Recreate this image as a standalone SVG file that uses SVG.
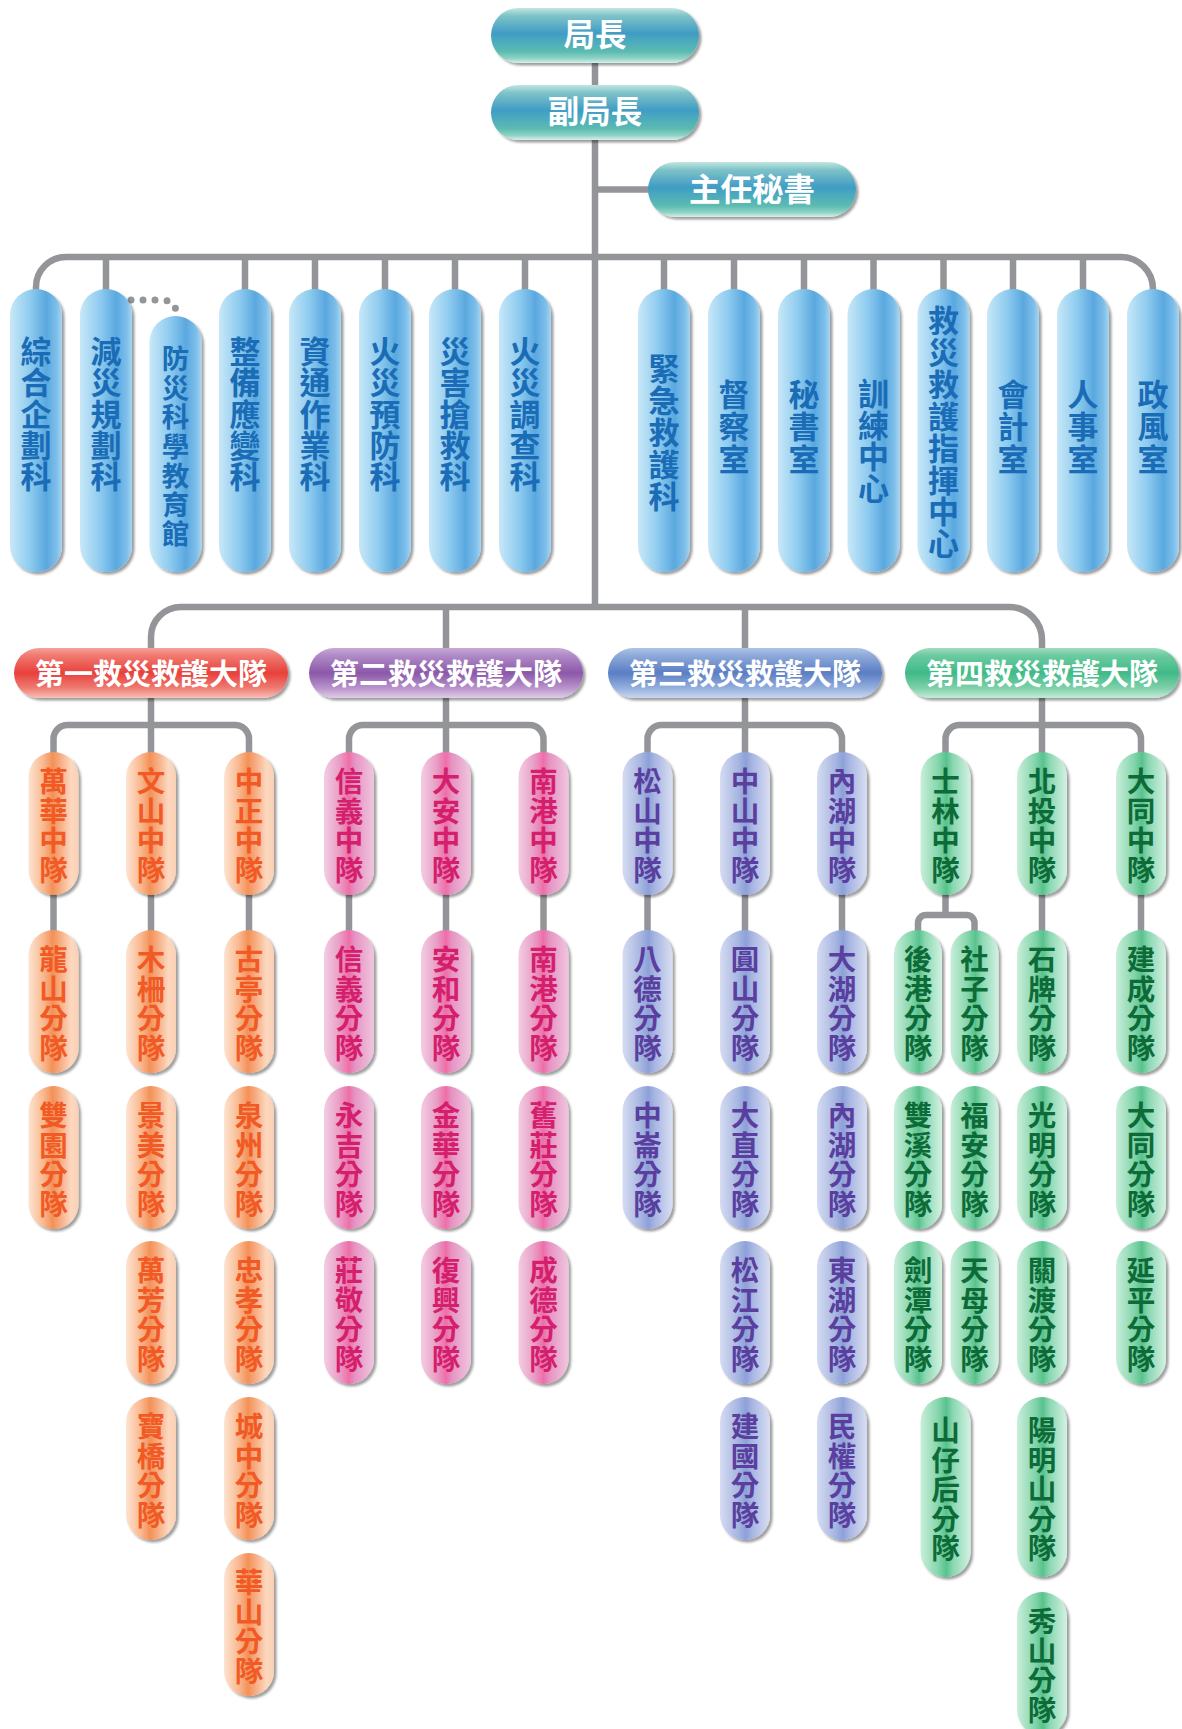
<svg xmlns="http://www.w3.org/2000/svg" width="1182" height="1729" viewBox="0 0 1182 1729">
<defs>
<style>
.ln{fill:none;stroke:#939598;stroke-width:6.5}
.dot{fill:none;stroke:#939598;stroke-width:7;stroke-linecap:round;stroke-dasharray:0 12}
text{font-family:"Noto Sans CJK TC","Noto Sans CJK SC",sans-serif;font-weight:700;text-anchor:middle;dominant-baseline:central}
tspan{dominant-baseline:central}
.sh{filter:url(#sh)}
.tw{fill:#fff;font-size:31.5px}
.tb{fill:#fff;font-size:29px}
.td{fill:#1a6cb6;font-size:31px;transform:translateY(-2px)}
.td2{fill:#1a6cb6;font-size:27.5px;transform:translateY(-1px)}
.tt{font-size:28.5px}
.to{fill:#f15a24}.tp{fill:#d41f6c}.tl{fill:#5a3f9f}.tg{fill:#0d6b38}
.ptop{fill:url(#gTop)}
.pdep{fill:url(#gDep)}
.po{fill:url(#gO)}.pp{fill:url(#gP)}.pl{fill:url(#gL)}.pg{fill:url(#gG)}
</style>
<filter id="sh" x="-20%" y="-10%" width="150%" height="125%">
<feDropShadow dx="2.5" dy="2.5" stdDeviation="1.3" flood-color="#000" flood-opacity="0.38"/>
</filter>
<linearGradient id="gTop" x1="0" y1="0" x2="0" y2="1">
<stop offset="0" stop-color="#c2e6e1"/><stop offset="0.14" stop-color="#7fc3c8"/><stop offset="0.46" stop-color="#3f9cc4"/><stop offset="0.56" stop-color="#48a6c0"/><stop offset="0.8" stop-color="#5cbcb1"/><stop offset="0.92" stop-color="#92d4c7"/><stop offset="1" stop-color="#d8f1eb"/>
</linearGradient>
<linearGradient id="gDep" x1="0" y1="0" x2="1" y2="0">
<stop offset="0" stop-color="#c8e8f8"/><stop offset="0.4" stop-color="#8ccaef"/><stop offset="0.7" stop-color="#5aa8df"/><stop offset="0.9" stop-color="#7ebfea"/><stop offset="1" stop-color="#a7d6f3"/>
</linearGradient>
<linearGradient id="gO" x1="0" y1="0" x2="1" y2="0">
<stop offset="0" stop-color="#fde4d2"/><stop offset="0.3" stop-color="#f9b88f"/><stop offset="0.48" stop-color="#f39158"/><stop offset="0.6" stop-color="#f6a678"/><stop offset="0.85" stop-color="#fcd8bf"/><stop offset="1" stop-color="#fbd0b4"/>
</linearGradient>
<linearGradient id="gP" x1="0" y1="0" x2="1" y2="0">
<stop offset="0" stop-color="#f3cde2"/><stop offset="0.3" stop-color="#e9a0c8"/><stop offset="0.5" stop-color="#ee6ea8"/><stop offset="0.62" stop-color="#e694c3"/><stop offset="1" stop-color="#f0c6de"/>
</linearGradient>
<linearGradient id="gL" x1="0" y1="0" x2="1" y2="0">
<stop offset="0" stop-color="#d5dcf2"/><stop offset="0.35" stop-color="#a9b8e2"/><stop offset="0.52" stop-color="#8da1d8"/><stop offset="0.65" stop-color="#a8b6e2"/><stop offset="1" stop-color="#d9def2"/>
</linearGradient>
<linearGradient id="gG" x1="0" y1="0" x2="1" y2="0">
<stop offset="0" stop-color="#c9eedb"/><stop offset="0.35" stop-color="#86d6ad"/><stop offset="0.52" stop-color="#58c28d"/><stop offset="0.65" stop-color="#8bd7b1"/><stop offset="1" stop-color="#d3f2e3"/>
</linearGradient>
<linearGradient id="gR" x1="0" y1="0" x2="0" y2="1">
<stop offset="0" stop-color="#f5a199"/><stop offset="0.15" stop-color="#f07a70"/><stop offset="0.5" stop-color="#e8403c"/><stop offset="0.8" stop-color="#ef7b72"/><stop offset="1" stop-color="#f8c0b8"/>
</linearGradient>
<linearGradient id="gPu" x1="0" y1="0" x2="0" y2="1">
<stop offset="0" stop-color="#c9a9d6"/><stop offset="0.15" stop-color="#b08ac7"/><stop offset="0.5" stop-color="#8b58a8"/><stop offset="0.8" stop-color="#b893cc"/><stop offset="1" stop-color="#e0cde8"/>
</linearGradient>
<linearGradient id="gBl" x1="0" y1="0" x2="0" y2="1">
<stop offset="0" stop-color="#aec3e8"/><stop offset="0.15" stop-color="#8eaad9"/><stop offset="0.5" stop-color="#5a7ec4"/><stop offset="0.8" stop-color="#94afdd"/><stop offset="1" stop-color="#c9d7f0"/>
</linearGradient>
<linearGradient id="gGr" x1="0" y1="0" x2="0" y2="1">
<stop offset="0" stop-color="#9fdcc0"/><stop offset="0.15" stop-color="#6ccaa0"/><stop offset="0.5" stop-color="#3fba88"/><stop offset="0.8" stop-color="#7ed0a9"/><stop offset="1" stop-color="#c4ecd9"/>
</linearGradient>
</defs>
<rect width="1182" height="1729" fill="#fff"/>

<g id="connectors">
<path class="ln" d="M595,60 V607"/>
<path class="ln" d="M595,189.5 H650"/>
<path class="ln" d="M36,290 V287 A30 30 0 0 1 66 257 H1121 A32 32 0 0 1 1153 289 V290"/>
<path class="ln" d="M106,257 V290 M245,257 V290 M315,257 V290 M385,257 V290 M455,257 V290 M525,257 V290 M664,257 V290 M734,257 V290 M804,257 V290 M873.5,257 V290 M943.5,257 V290 M1013,257 V290 M1083,257 V290"/>
<path class="dot" d="M131,300 H161 Q176,300 176,313"/>
<path class="ln" d="M151,649 V637 A30 30 0 0 1 181 607 H1009 A33 33 0 0 1 1042 640 V649 M446,607 V649 M745,607 V649"/>
<path class="ln" d="M151,697 V753 M446,697 V753 M745,697 V753 M1042,697 V753"/>
<path class="ln" d="M53.5,753 V739 A14 14 0 0 1 67.5 725 H235 A14 14 0 0 1 249 739 V753"/>
<path class="ln" d="M349,753 V739 A14 14 0 0 1 363 725 H529.5 A14 14 0 0 1 543.5 739 V753"/>
<path class="ln" d="M647.5,753 V739 A14 14 0 0 1 661.5 725 H828 A14 14 0 0 1 842 739 V753"/>
<path class="ln" d="M945.5,753 V739 A14 14 0 0 1 959.5 725 H1127 A14 14 0 0 1 1141 739 V753"/>
<path class="ln" d="M53.5,894 V931 M151,894 V931 M249,894 V931 M349,894 V931 M446,894 V931 M543.5,894 V931 M647.5,894 V931 M745,894 V931 M842,894 V931 M1042,894 V931 M1141,894 V931"/>
<path class="ln" d="M945.5,894 V915 M918,931 V923 A8 8 0 0 1 926 915 H966.5 A8 8 0 0 1 974.5 923 V931"/>
</g>

<g id="n-chief"><rect class="ptop sh" x="491" y="8" width="208" height="55" rx="27.5"/><text class="tw" x="595" y="32">局長</text></g>
<g id="n-deputy"><rect class="ptop sh" x="491" y="85" width="208" height="55" rx="27.5"/><text class="tw" x="595" y="109">副局長</text></g>
<g id="n-secretary"><rect class="ptop sh" x="648" y="162" width="208" height="55" rx="27.5"/><text class="tw" x="752" y="186.5">主任秘書</text></g>

<g id="n-d1" transform="translate(36,0)"><rect class="pdep sh" x="-26" y="289" width="52" height="283" rx="26"/><text class="td"><tspan x="0" y="351">綜</tspan><tspan x="0" y="382.25">合</tspan><tspan x="0" y="413.5">企</tspan><tspan x="0" y="444.75">劃</tspan><tspan x="0" y="476">科</tspan></text></g>
<g id="n-d2" transform="translate(106,0)"><rect class="pdep sh" x="-26" y="289" width="52" height="283" rx="26"/><text class="td"><tspan x="0" y="351">減</tspan><tspan x="0" y="382.25">災</tspan><tspan x="0" y="413.5">規</tspan><tspan x="0" y="444.75">劃</tspan><tspan x="0" y="476">科</tspan></text></g>
<g id="n-d3" transform="translate(175.5,0)"><rect class="pdep sh" x="-26" y="316" width="52" height="256" rx="26"/><text class="td2"><tspan x="0" y="358">防</tspan><tspan x="0" y="387.2">災</tspan><tspan x="0" y="416.3">科</tspan><tspan x="0" y="445.5">學</tspan><tspan x="0" y="474.7">教</tspan><tspan x="0" y="503.8">育</tspan><tspan x="0" y="533">館</tspan></text></g>
<g id="n-d4" transform="translate(245,0)"><rect class="pdep sh" x="-26" y="289" width="52" height="283" rx="26"/><text class="td"><tspan x="0" y="351">整</tspan><tspan x="0" y="382.25">備</tspan><tspan x="0" y="413.5">應</tspan><tspan x="0" y="444.75">變</tspan><tspan x="0" y="476">科</tspan></text></g>
<g id="n-d5" transform="translate(315,0)"><rect class="pdep sh" x="-26" y="289" width="52" height="283" rx="26"/><text class="td"><tspan x="0" y="351">資</tspan><tspan x="0" y="382.25">通</tspan><tspan x="0" y="413.5">作</tspan><tspan x="0" y="444.75">業</tspan><tspan x="0" y="476">科</tspan></text></g>
<g id="n-d6" transform="translate(385,0)"><rect class="pdep sh" x="-26" y="289" width="52" height="283" rx="26"/><text class="td"><tspan x="0" y="351">火</tspan><tspan x="0" y="382.25">災</tspan><tspan x="0" y="413.5">預</tspan><tspan x="0" y="444.75">防</tspan><tspan x="0" y="476">科</tspan></text></g>
<g id="n-d7" transform="translate(455,0)"><rect class="pdep sh" x="-26" y="289" width="52" height="283" rx="26"/><text class="td"><tspan x="0" y="351">災</tspan><tspan x="0" y="382.25">害</tspan><tspan x="0" y="413.5">搶</tspan><tspan x="0" y="444.75">救</tspan><tspan x="0" y="476">科</tspan></text></g>
<g id="n-d8" transform="translate(525,0)"><rect class="pdep sh" x="-26" y="289" width="52" height="283" rx="26"/><text class="td"><tspan x="0" y="351">火</tspan><tspan x="0" y="382.25">災</tspan><tspan x="0" y="413.5">調</tspan><tspan x="0" y="444.75">查</tspan><tspan x="0" y="476">科</tspan></text></g>
<g id="n-d9" transform="translate(664,0)"><rect class="pdep sh" x="-26" y="289" width="52" height="283" rx="26"/><text class="td"><tspan x="0" y="368">緊</tspan><tspan x="0" y="400">急</tspan><tspan x="0" y="432">救</tspan><tspan x="0" y="464">護</tspan><tspan x="0" y="496">科</tspan></text></g>
<g id="n-d10" transform="translate(734,0)"><rect class="pdep sh" x="-26" y="289" width="52" height="283" rx="26"/><text class="td"><tspan x="0" y="393.5">督</tspan><tspan x="0" y="426">察</tspan><tspan x="0" y="458.5">室</tspan></text></g>
<g id="n-d11" transform="translate(804,0)"><rect class="pdep sh" x="-26" y="289" width="52" height="283" rx="26"/><text class="td"><tspan x="0" y="393.5">秘</tspan><tspan x="0" y="426">書</tspan><tspan x="0" y="458.5">室</tspan></text></g>
<g id="n-d12" transform="translate(873.5,0)"><rect class="pdep sh" x="-26" y="289" width="52" height="283" rx="26"/><text class="td"><tspan x="0" y="393">訓</tspan><tspan x="0" y="424.7">練</tspan><tspan x="0" y="456.3">中</tspan><tspan x="0" y="488">心</tspan></text></g>
<g id="n-d13" transform="translate(943.5,0)"><rect class="pdep sh" x="-26" y="289" width="52" height="283" rx="26"/><text class="td"><tspan x="0" y="320">救</tspan><tspan x="0" y="351.9">災</tspan><tspan x="0" y="383.8">救</tspan><tspan x="0" y="415.7">護</tspan><tspan x="0" y="447.6">指</tspan><tspan x="0" y="479.5">揮</tspan><tspan x="0" y="511.4">中</tspan><tspan x="0" y="543.3">心</tspan></text></g>
<g id="n-d14" transform="translate(1013,0)"><rect class="pdep sh" x="-26" y="289" width="52" height="283" rx="26"/><text class="td"><tspan x="0" y="393.5">會</tspan><tspan x="0" y="426">計</tspan><tspan x="0" y="458.5">室</tspan></text></g>
<g id="n-d15" transform="translate(1083,0)"><rect class="pdep sh" x="-26" y="289" width="52" height="283" rx="26"/><text class="td"><tspan x="0" y="393.5">人</tspan><tspan x="0" y="426">事</tspan><tspan x="0" y="458.5">室</tspan></text></g>
<g id="n-d16" transform="translate(1153,0)"><rect class="pdep sh" x="-26" y="289" width="52" height="283" rx="26"/><text class="td"><tspan x="0" y="393.5">政</tspan><tspan x="0" y="426">風</tspan><tspan x="0" y="458.5">室</tspan></text></g>

<g id="n-b1"><rect class="sh" fill="url(#gR)" x="14" y="648" width="274" height="50" rx="25"/><text class="tb" x="151" y="672">第一救災救護大隊</text></g>
<g id="n-b2"><rect class="sh" fill="url(#gPu)" x="309" y="648" width="274" height="50" rx="25"/><text class="tb" x="446" y="672">第二救災救護大隊</text></g>
<g id="n-b3"><rect class="sh" fill="url(#gBl)" x="608" y="648" width="274" height="50" rx="25"/><text class="tb" x="745" y="672">第三救災救護大隊</text></g>
<g id="n-b4"><rect class="sh" fill="url(#gGr)" x="905" y="648" width="274" height="50" rx="25"/><text class="tb" x="1042" y="672">第四救災救護大隊</text></g>

<g id="group1">
<g id="n-wanhua" transform="translate(53.5,823.5)"><rect class="po sh" x="-25" y="-71.5" width="50" height="143" rx="25"/><text class="tt to"><tspan x="0" y="-44.25">萬</tspan><tspan x="0" y="-14.75">華</tspan><tspan x="0" y="14.75">中</tspan><tspan x="0" y="44.25">隊</tspan></text></g>
<g id="n-longshan" transform="translate(53.5,1001.5)"><rect class="po sh" x="-25" y="-71.5" width="50" height="143" rx="25"/><text class="tt to"><tspan x="0" y="-44.25">龍</tspan><tspan x="0" y="-14.75">山</tspan><tspan x="0" y="14.75">分</tspan><tspan x="0" y="44.25">隊</tspan></text></g>
<g id="n-shuangyuan" transform="translate(53.5,1157.5)"><rect class="po sh" x="-25" y="-71.5" width="50" height="143" rx="25"/><text class="tt to"><tspan x="0" y="-44.25">雙</tspan><tspan x="0" y="-14.75">園</tspan><tspan x="0" y="14.75">分</tspan><tspan x="0" y="44.25">隊</tspan></text></g>
<g id="n-wenshan" transform="translate(151,823.5)"><rect class="po sh" x="-25" y="-71.5" width="50" height="143" rx="25"/><text class="tt to"><tspan x="0" y="-44.25">文</tspan><tspan x="0" y="-14.75">山</tspan><tspan x="0" y="14.75">中</tspan><tspan x="0" y="44.25">隊</tspan></text></g>
<g id="n-muzha" transform="translate(151,1001.5)"><rect class="po sh" x="-25" y="-71.5" width="50" height="143" rx="25"/><text class="tt to"><tspan x="0" y="-44.25">木</tspan><tspan x="0" y="-14.75">柵</tspan><tspan x="0" y="14.75">分</tspan><tspan x="0" y="44.25">隊</tspan></text></g>
<g id="n-jingmei" transform="translate(151,1157.5)"><rect class="po sh" x="-25" y="-71.5" width="50" height="143" rx="25"/><text class="tt to"><tspan x="0" y="-44.25">景</tspan><tspan x="0" y="-14.75">美</tspan><tspan x="0" y="14.75">分</tspan><tspan x="0" y="44.25">隊</tspan></text></g>
<g id="n-wanfang" transform="translate(151,1312.5)"><rect class="po sh" x="-25" y="-71.5" width="50" height="143" rx="25"/><text class="tt to"><tspan x="0" y="-44.25">萬</tspan><tspan x="0" y="-14.75">芳</tspan><tspan x="0" y="14.75">分</tspan><tspan x="0" y="44.25">隊</tspan></text></g>
<g id="n-baoqiao" transform="translate(151,1468.5)"><rect class="po sh" x="-25" y="-71.5" width="50" height="143" rx="25"/><text class="tt to"><tspan x="0" y="-44.25">寶</tspan><tspan x="0" y="-14.75">橋</tspan><tspan x="0" y="14.75">分</tspan><tspan x="0" y="44.25">隊</tspan></text></g>
<g id="n-zhongzheng" transform="translate(249,823.5)"><rect class="po sh" x="-25" y="-71.5" width="50" height="143" rx="25"/><text class="tt to"><tspan x="0" y="-44.25">中</tspan><tspan x="0" y="-14.75">正</tspan><tspan x="0" y="14.75">中</tspan><tspan x="0" y="44.25">隊</tspan></text></g>
<g id="n-guting" transform="translate(249,1001.5)"><rect class="po sh" x="-25" y="-71.5" width="50" height="143" rx="25"/><text class="tt to"><tspan x="0" y="-44.25">古</tspan><tspan x="0" y="-14.75">亭</tspan><tspan x="0" y="14.75">分</tspan><tspan x="0" y="44.25">隊</tspan></text></g>
<g id="n-quanzhou" transform="translate(249,1157.5)"><rect class="po sh" x="-25" y="-71.5" width="50" height="143" rx="25"/><text class="tt to"><tspan x="0" y="-44.25">泉</tspan><tspan x="0" y="-14.75">州</tspan><tspan x="0" y="14.75">分</tspan><tspan x="0" y="44.25">隊</tspan></text></g>
<g id="n-zhongxiao" transform="translate(249,1312.5)"><rect class="po sh" x="-25" y="-71.5" width="50" height="143" rx="25"/><text class="tt to"><tspan x="0" y="-44.25">忠</tspan><tspan x="0" y="-14.75">孝</tspan><tspan x="0" y="14.75">分</tspan><tspan x="0" y="44.25">隊</tspan></text></g>
<g id="n-chengzhong" transform="translate(249,1468.5)"><rect class="po sh" x="-25" y="-71.5" width="50" height="143" rx="25"/><text class="tt to"><tspan x="0" y="-44.25">城</tspan><tspan x="0" y="-14.75">中</tspan><tspan x="0" y="14.75">分</tspan><tspan x="0" y="44.25">隊</tspan></text></g>
<g id="n-huashan" transform="translate(249,1624.5)"><rect class="po sh" x="-25" y="-71.5" width="50" height="143" rx="25"/><text class="tt to"><tspan x="0" y="-44.25">華</tspan><tspan x="0" y="-14.75">山</tspan><tspan x="0" y="14.75">分</tspan><tspan x="0" y="44.25">隊</tspan></text></g>
</g>

<g id="group2">
<g id="n-xinyi" transform="translate(349,823.5)"><rect class="pp sh" x="-25" y="-71.5" width="50" height="143" rx="25"/><text class="tt tp"><tspan x="0" y="-44.25">信</tspan><tspan x="0" y="-14.75">義</tspan><tspan x="0" y="14.75">中</tspan><tspan x="0" y="44.25">隊</tspan></text></g>
<g id="n-xinyi2" transform="translate(349,1001.5)"><rect class="pp sh" x="-25" y="-71.5" width="50" height="143" rx="25"/><text class="tt tp"><tspan x="0" y="-44.25">信</tspan><tspan x="0" y="-14.75">義</tspan><tspan x="0" y="14.75">分</tspan><tspan x="0" y="44.25">隊</tspan></text></g>
<g id="n-yongji" transform="translate(349,1157.5)"><rect class="pp sh" x="-25" y="-71.5" width="50" height="143" rx="25"/><text class="tt tp"><tspan x="0" y="-44.25">永</tspan><tspan x="0" y="-14.75">吉</tspan><tspan x="0" y="14.75">分</tspan><tspan x="0" y="44.25">隊</tspan></text></g>
<g id="n-zhuangjing" transform="translate(349,1312.5)"><rect class="pp sh" x="-25" y="-71.5" width="50" height="143" rx="25"/><text class="tt tp"><tspan x="0" y="-44.25">莊</tspan><tspan x="0" y="-14.75">敬</tspan><tspan x="0" y="14.75">分</tspan><tspan x="0" y="44.25">隊</tspan></text></g>
<g id="n-daan" transform="translate(446,823.5)"><rect class="pp sh" x="-25" y="-71.5" width="50" height="143" rx="25"/><text class="tt tp"><tspan x="0" y="-44.25">大</tspan><tspan x="0" y="-14.75">安</tspan><tspan x="0" y="14.75">中</tspan><tspan x="0" y="44.25">隊</tspan></text></g>
<g id="n-anhe" transform="translate(446,1001.5)"><rect class="pp sh" x="-25" y="-71.5" width="50" height="143" rx="25"/><text class="tt tp"><tspan x="0" y="-44.25">安</tspan><tspan x="0" y="-14.75">和</tspan><tspan x="0" y="14.75">分</tspan><tspan x="0" y="44.25">隊</tspan></text></g>
<g id="n-jinhua" transform="translate(446,1157.5)"><rect class="pp sh" x="-25" y="-71.5" width="50" height="143" rx="25"/><text class="tt tp"><tspan x="0" y="-44.25">金</tspan><tspan x="0" y="-14.75">華</tspan><tspan x="0" y="14.75">分</tspan><tspan x="0" y="44.25">隊</tspan></text></g>
<g id="n-fuxing" transform="translate(446,1312.5)"><rect class="pp sh" x="-25" y="-71.5" width="50" height="143" rx="25"/><text class="tt tp"><tspan x="0" y="-44.25">復</tspan><tspan x="0" y="-14.75">興</tspan><tspan x="0" y="14.75">分</tspan><tspan x="0" y="44.25">隊</tspan></text></g>
<g id="n-nangang" transform="translate(543.5,823.5)"><rect class="pp sh" x="-25" y="-71.5" width="50" height="143" rx="25"/><text class="tt tp"><tspan x="0" y="-44.25">南</tspan><tspan x="0" y="-14.75">港</tspan><tspan x="0" y="14.75">中</tspan><tspan x="0" y="44.25">隊</tspan></text></g>
<g id="n-nangang2" transform="translate(543.5,1001.5)"><rect class="pp sh" x="-25" y="-71.5" width="50" height="143" rx="25"/><text class="tt tp"><tspan x="0" y="-44.25">南</tspan><tspan x="0" y="-14.75">港</tspan><tspan x="0" y="14.75">分</tspan><tspan x="0" y="44.25">隊</tspan></text></g>
<g id="n-jiuzhuang" transform="translate(543.5,1157.5)"><rect class="pp sh" x="-25" y="-71.5" width="50" height="143" rx="25"/><text class="tt tp"><tspan x="0" y="-44.25">舊</tspan><tspan x="0" y="-14.75">莊</tspan><tspan x="0" y="14.75">分</tspan><tspan x="0" y="44.25">隊</tspan></text></g>
<g id="n-chengde" transform="translate(543.5,1312.5)"><rect class="pp sh" x="-25" y="-71.5" width="50" height="143" rx="25"/><text class="tt tp"><tspan x="0" y="-44.25">成</tspan><tspan x="0" y="-14.75">德</tspan><tspan x="0" y="14.75">分</tspan><tspan x="0" y="44.25">隊</tspan></text></g>
</g>

<g id="group3">
<g id="n-songshan" transform="translate(647.5,823.5)"><rect class="pl sh" x="-25" y="-71.5" width="50" height="143" rx="25"/><text class="tt tl"><tspan x="0" y="-44.25">松</tspan><tspan x="0" y="-14.75">山</tspan><tspan x="0" y="14.75">中</tspan><tspan x="0" y="44.25">隊</tspan></text></g>
<g id="n-bade" transform="translate(647.5,1001.5)"><rect class="pl sh" x="-25" y="-71.5" width="50" height="143" rx="25"/><text class="tt tl"><tspan x="0" y="-44.25">八</tspan><tspan x="0" y="-14.75">德</tspan><tspan x="0" y="14.75">分</tspan><tspan x="0" y="44.25">隊</tspan></text></g>
<g id="n-zhonglun" transform="translate(647.5,1157.5)"><rect class="pl sh" x="-25" y="-71.5" width="50" height="143" rx="25"/><text class="tt tl"><tspan x="0" y="-44.25">中</tspan><tspan x="0" y="-14.75">崙</tspan><tspan x="0" y="14.75">分</tspan><tspan x="0" y="44.25">隊</tspan></text></g>
<g id="n-zhongshan" transform="translate(745,823.5)"><rect class="pl sh" x="-25" y="-71.5" width="50" height="143" rx="25"/><text class="tt tl"><tspan x="0" y="-44.25">中</tspan><tspan x="0" y="-14.75">山</tspan><tspan x="0" y="14.75">中</tspan><tspan x="0" y="44.25">隊</tspan></text></g>
<g id="n-yuanshan" transform="translate(745,1001.5)"><rect class="pl sh" x="-25" y="-71.5" width="50" height="143" rx="25"/><text class="tt tl"><tspan x="0" y="-44.25">圓</tspan><tspan x="0" y="-14.75">山</tspan><tspan x="0" y="14.75">分</tspan><tspan x="0" y="44.25">隊</tspan></text></g>
<g id="n-dazhi" transform="translate(745,1157.5)"><rect class="pl sh" x="-25" y="-71.5" width="50" height="143" rx="25"/><text class="tt tl"><tspan x="0" y="-44.25">大</tspan><tspan x="0" y="-14.75">直</tspan><tspan x="0" y="14.75">分</tspan><tspan x="0" y="44.25">隊</tspan></text></g>
<g id="n-songjiang" transform="translate(745,1312.5)"><rect class="pl sh" x="-25" y="-71.5" width="50" height="143" rx="25"/><text class="tt tl"><tspan x="0" y="-44.25">松</tspan><tspan x="0" y="-14.75">江</tspan><tspan x="0" y="14.75">分</tspan><tspan x="0" y="44.25">隊</tspan></text></g>
<g id="n-jianguo" transform="translate(745,1468.5)"><rect class="pl sh" x="-25" y="-71.5" width="50" height="143" rx="25"/><text class="tt tl"><tspan x="0" y="-44.25">建</tspan><tspan x="0" y="-14.75">國</tspan><tspan x="0" y="14.75">分</tspan><tspan x="0" y="44.25">隊</tspan></text></g>
<g id="n-neihu" transform="translate(842,823.5)"><rect class="pl sh" x="-25" y="-71.5" width="50" height="143" rx="25"/><text class="tt tl"><tspan x="0" y="-44.25">內</tspan><tspan x="0" y="-14.75">湖</tspan><tspan x="0" y="14.75">中</tspan><tspan x="0" y="44.25">隊</tspan></text></g>
<g id="n-dahu" transform="translate(842,1001.5)"><rect class="pl sh" x="-25" y="-71.5" width="50" height="143" rx="25"/><text class="tt tl"><tspan x="0" y="-44.25">大</tspan><tspan x="0" y="-14.75">湖</tspan><tspan x="0" y="14.75">分</tspan><tspan x="0" y="44.25">隊</tspan></text></g>
<g id="n-neihu2" transform="translate(842,1157.5)"><rect class="pl sh" x="-25" y="-71.5" width="50" height="143" rx="25"/><text class="tt tl"><tspan x="0" y="-44.25">內</tspan><tspan x="0" y="-14.75">湖</tspan><tspan x="0" y="14.75">分</tspan><tspan x="0" y="44.25">隊</tspan></text></g>
<g id="n-donghu" transform="translate(842,1312.5)"><rect class="pl sh" x="-25" y="-71.5" width="50" height="143" rx="25"/><text class="tt tl"><tspan x="0" y="-44.25">東</tspan><tspan x="0" y="-14.75">湖</tspan><tspan x="0" y="14.75">分</tspan><tspan x="0" y="44.25">隊</tspan></text></g>
<g id="n-minquan" transform="translate(842,1468.5)"><rect class="pl sh" x="-25" y="-71.5" width="50" height="143" rx="25"/><text class="tt tl"><tspan x="0" y="-44.25">民</tspan><tspan x="0" y="-14.75">權</tspan><tspan x="0" y="14.75">分</tspan><tspan x="0" y="44.25">隊</tspan></text></g>
</g>

<g id="group4">
<g id="n-shilin" transform="translate(945.5,823.5)"><rect class="pg sh" x="-25" y="-71.5" width="50" height="143" rx="25"/><text class="tt tg"><tspan x="0" y="-44.25">士</tspan><tspan x="0" y="-14.75">林</tspan><tspan x="0" y="14.75">中</tspan><tspan x="0" y="44.25">隊</tspan></text></g>
<g id="n-hougang" transform="translate(918,1001.5)"><rect class="pg sh" x="-24" y="-71.5" width="48" height="143" rx="24"/><text class="tt tg"><tspan x="0" y="-44.25">後</tspan><tspan x="0" y="-14.75">港</tspan><tspan x="0" y="14.75">分</tspan><tspan x="0" y="44.25">隊</tspan></text></g>
<g id="n-shuangxi" transform="translate(918,1157.5)"><rect class="pg sh" x="-24" y="-71.5" width="48" height="143" rx="24"/><text class="tt tg"><tspan x="0" y="-44.25">雙</tspan><tspan x="0" y="-14.75">溪</tspan><tspan x="0" y="14.75">分</tspan><tspan x="0" y="44.25">隊</tspan></text></g>
<g id="n-jiantan" transform="translate(918,1312.5)"><rect class="pg sh" x="-24" y="-71.5" width="48" height="143" rx="24"/><text class="tt tg"><tspan x="0" y="-44.25">劍</tspan><tspan x="0" y="-14.75">潭</tspan><tspan x="0" y="14.75">分</tspan><tspan x="0" y="44.25">隊</tspan></text></g>
<g id="n-shezi" transform="translate(974.5,1001.5)"><rect class="pg sh" x="-24" y="-71.5" width="48" height="143" rx="24"/><text class="tt tg"><tspan x="0" y="-44.25">社</tspan><tspan x="0" y="-14.75">子</tspan><tspan x="0" y="14.75">分</tspan><tspan x="0" y="44.25">隊</tspan></text></g>
<g id="n-fuan" transform="translate(974.5,1157.5)"><rect class="pg sh" x="-24" y="-71.5" width="48" height="143" rx="24"/><text class="tt tg"><tspan x="0" y="-44.25">福</tspan><tspan x="0" y="-14.75">安</tspan><tspan x="0" y="14.75">分</tspan><tspan x="0" y="44.25">隊</tspan></text></g>
<g id="n-tianmu" transform="translate(974.5,1312.5)"><rect class="pg sh" x="-24" y="-71.5" width="48" height="143" rx="24"/><text class="tt tg"><tspan x="0" y="-44.25">天</tspan><tspan x="0" y="-14.75">母</tspan><tspan x="0" y="14.75">分</tspan><tspan x="0" y="44.25">隊</tspan></text></g>
<g id="n-shanzaihou" transform="translate(945.5,1487)"><rect class="pg sh" x="-25" y="-90" width="50" height="180" rx="25"/><text class="tt tg"><tspan x="0" y="-59">山</tspan><tspan x="0" y="-29.5">仔</tspan><tspan x="0" y="0">后</tspan><tspan x="0" y="29.5">分</tspan><tspan x="0" y="59">隊</tspan></text></g>
<g id="n-beitou" transform="translate(1042,823.5)"><rect class="pg sh" x="-25" y="-71.5" width="50" height="143" rx="25"/><text class="tt tg"><tspan x="0" y="-44.25">北</tspan><tspan x="0" y="-14.75">投</tspan><tspan x="0" y="14.75">中</tspan><tspan x="0" y="44.25">隊</tspan></text></g>
<g id="n-shipai" transform="translate(1042,1001.5)"><rect class="pg sh" x="-25" y="-71.5" width="50" height="143" rx="25"/><text class="tt tg"><tspan x="0" y="-44.25">石</tspan><tspan x="0" y="-14.75">牌</tspan><tspan x="0" y="14.75">分</tspan><tspan x="0" y="44.25">隊</tspan></text></g>
<g id="n-guangming" transform="translate(1042,1157.5)"><rect class="pg sh" x="-25" y="-71.5" width="50" height="143" rx="25"/><text class="tt tg"><tspan x="0" y="-44.25">光</tspan><tspan x="0" y="-14.75">明</tspan><tspan x="0" y="14.75">分</tspan><tspan x="0" y="44.25">隊</tspan></text></g>
<g id="n-guandu" transform="translate(1042,1312.5)"><rect class="pg sh" x="-25" y="-71.5" width="50" height="143" rx="25"/><text class="tt tg"><tspan x="0" y="-44.25">關</tspan><tspan x="0" y="-14.75">渡</tspan><tspan x="0" y="14.75">分</tspan><tspan x="0" y="44.25">隊</tspan></text></g>
<g id="n-yangmingshan" transform="translate(1042,1487)"><rect class="pg sh" x="-25" y="-90" width="50" height="180" rx="25"/><text class="tt tg"><tspan x="0" y="-59">陽</tspan><tspan x="0" y="-29.5">明</tspan><tspan x="0" y="0">山</tspan><tspan x="0" y="29.5">分</tspan><tspan x="0" y="59">隊</tspan></text></g>
<g id="n-xiushan" transform="translate(1042,1663.5)"><rect class="pg sh" x="-25" y="-71.5" width="50" height="143" rx="25"/><text class="tt tg"><tspan x="0" y="-44.25">秀</tspan><tspan x="0" y="-14.75">山</tspan><tspan x="0" y="14.75">分</tspan><tspan x="0" y="44.25">隊</tspan></text></g>
<g id="n-datong" transform="translate(1141,823.5)"><rect class="pg sh" x="-25" y="-71.5" width="50" height="143" rx="25"/><text class="tt tg"><tspan x="0" y="-44.25">大</tspan><tspan x="0" y="-14.75">同</tspan><tspan x="0" y="14.75">中</tspan><tspan x="0" y="44.25">隊</tspan></text></g>
<g id="n-jiancheng" transform="translate(1141,1001.5)"><rect class="pg sh" x="-25" y="-71.5" width="50" height="143" rx="25"/><text class="tt tg"><tspan x="0" y="-44.25">建</tspan><tspan x="0" y="-14.75">成</tspan><tspan x="0" y="14.75">分</tspan><tspan x="0" y="44.25">隊</tspan></text></g>
<g id="n-datong2" transform="translate(1141,1157.5)"><rect class="pg sh" x="-25" y="-71.5" width="50" height="143" rx="25"/><text class="tt tg"><tspan x="0" y="-44.25">大</tspan><tspan x="0" y="-14.75">同</tspan><tspan x="0" y="14.75">分</tspan><tspan x="0" y="44.25">隊</tspan></text></g>
<g id="n-yanping" transform="translate(1141,1312.5)"><rect class="pg sh" x="-25" y="-71.5" width="50" height="143" rx="25"/><text class="tt tg"><tspan x="0" y="-44.25">延</tspan><tspan x="0" y="-14.75">平</tspan><tspan x="0" y="14.75">分</tspan><tspan x="0" y="44.25">隊</tspan></text></g>
</g>
</svg>
